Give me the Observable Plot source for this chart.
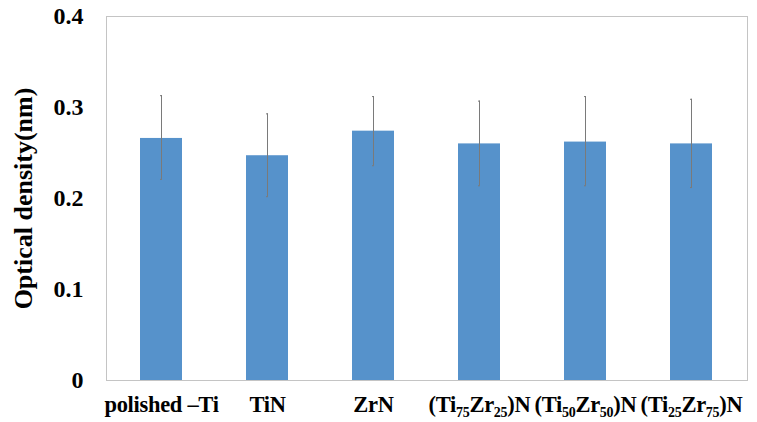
<!DOCTYPE html>
<html>
<head>
<meta charset="utf-8">
<script src="https://cdn.jsdelivr.net/npm/d3@7"></script>
<script src="https://cdn.jsdelivr.net/npm/@observablehq/plot@0.6"></script>
<style>
  html, body { margin: 0; padding: 0; background: #fff; }
  #chart svg { display: block; }
</style>
</head>
<body>
<div id="chart"></div>
<script>
// Data
const categories = ["polished –Ti", "TiN", "ZrN", "(Ti75Zr25)N", "(Ti50Zr50)N", "(Ti25Zr75)N"];
const means      = [0.266, 0.247, 0.274, 0.260, 0.262, 0.260];
const errLow     = [0.221, 0.202, 0.236, 0.214, 0.214, 0.212];
const errHigh    = [0.313, 0.293, 0.312, 0.307, 0.312, 0.309];
const yTicks     = [0, 0.1, 0.2, 0.3, 0.4];
const yLabel     = "Optical density(nm)";

const rows = categories.map((c, i) => ({cat: c, v: means[i], lo: errLow[i], hi: errHigh[i]}));

const font = "'Liberation Serif', 'Times New Roman', serif";

const chart = Plot.plot({
  width: 757,
  height: 422,
  marginLeft: 106,
  marginRight: 10,
  marginTop: 16,
  marginBottom: 42,
  style: {fontFamily: font, fontWeight: "bold", fontSize: "22px", color: "#000", background: "#fff"},
  x: {domain: categories, paddingInner: 0.6, paddingOuter: 0.3, label: null},
  y: {domain: [0, 0.4], label: null},
  marks: [
    Plot.frame({stroke: "#c4c4c4"}),
    Plot.barY(rows, {x: "cat", y: "v", fill: "#5692cb"}),
    Plot.ruleX(rows, {x: "cat", y1: "lo", y2: "hi", stroke: "#7a7a7a", strokeWidth: 1}),
    Plot.tickY(rows, {x: "cat", y: "lo", stroke: "#7a7a7a", insetLeft: 20, insetRight: 20}),
    Plot.tickY(rows, {x: "cat", y: "hi", stroke: "#7a7a7a", insetLeft: 20, insetRight: 20}),
    Plot.axisY({ticks: yTicks, tickFormat: d => d === 0 ? "0" : d3.format(".1f")(d), tickSize: 0, tickPadding: 23,
      fontSize: 24, label: yLabel, labelAnchor: "center", labelOffset: 93, labelArrow: "none"}),
    Plot.axisX({tickSize: 0, tickPadding: 16, fontSize: 22.5, label: null})
  ]
});

document.getElementById("chart").appendChild(chart);

// Render digit runs in the x tick labels as subscripts
d3.select(chart).selectAll('g[aria-label="x-axis tick label"] text').each(function() {
  const t = d3.select(this);
  const s = t.text();
  if (!/\d/.test(s)) return;
  t.text(null);
  const parts = s.split(/(\d+)/).filter(p => p.length);
  parts.forEach(p => {
    if (/^\d+$/.test(p)) {
      t.append("tspan").attr("font-size", 14).attr("dy", 5).text(p);
    } else {
      const ts = t.append("tspan").text(p);
      if (t.selectAll("tspan").size() > 1) ts.attr("dy", -5);
    }
  });
});
d3.select(chart).selectAll('g[aria-label="x-axis tick label"] text').attr("letter-spacing", "-0.3");
d3.select(chart).selectAll('g[aria-label="y-axis label"] text').attr("font-size", 26);
</script>
</body>
</html>
